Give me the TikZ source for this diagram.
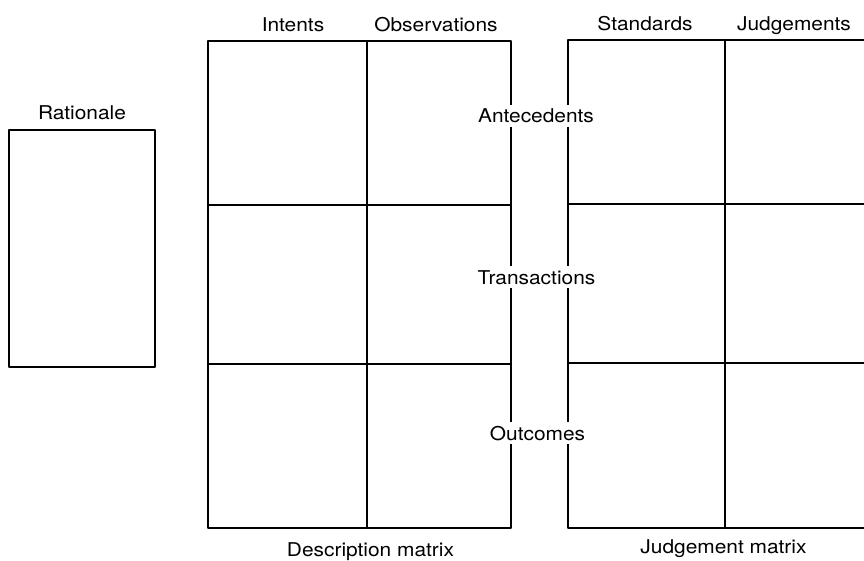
\documentclass[tikz,border=0pt]{standalone}
\usepackage{fontspec}
\setmainfont{TeX Gyre Heros}[FakeStretch=1.1]
\begin{document}
\begin{tikzpicture}[x=1pt,y=-1pt,
  frame/.style={line width=1.8pt,line join=round},
  lbl/.style={font=\fontsize{19}{22}\selectfont,anchor=base,inner sep=1pt},
  rowlbl/.style={lbl,fill=white,inner xsep=3pt,inner ysep=4pt}]
  \clip (0,0) rectangle (864,561);
  \fill[white] (0,0) rectangle (864,561);

  % rationale panel
  \coordinate (r1) at (9,130);
  \coordinate (r2) at (155,367);
  \draw[frame] (r1) rectangle (r2);

  % description matrix: 2 columns x 3 rows
  \coordinate (d1) at (208,41);
  \coordinate (d2) at (511,528);
  \draw[frame] (d1) rectangle (d2);
  \draw[frame] (367,41) -- (367,528);
  \draw[frame] (208,205) -- (511,205);
  \draw[frame] (208,364) -- (511,364);

  % judgement matrix (runs past the right edge)
  \coordinate (j1) at (568,40);
  \draw[frame] (880,40) -- (j1) -- (568,528) -- (880,528);
  \draw[frame] (725,40) -- (725,528);
  \draw[frame] (568,204) -- (880,204);
  \draw[frame] (568,363) -- (880,363);

  % column headings
  \node[lbl] (rat) at (82,120) {Rationale};
  \node[lbl] (int) at (293,32) {Intents};
  \node[lbl] (obs) at (436,32) {Observations};
  \node[lbl] (std) at (645,31) {Standards};
  \node[lbl] (jdg) at (794,31) {Judgements};

  % row headings, set over the gap between the matrices
  \node[rowlbl] (ant) at (536,123) {Antecedents};
  \node[rowlbl] (trn) at (536.5,284) {Transactions};
  \node[rowlbl] (out) at (537.5,440) {Outcomes};

  % captions
  \node[lbl] (dcap) at (370.5,556) {Description matrix};
  \node[lbl] (jcap) at (723.5,553) {Judgement matrix};
\end{tikzpicture}
\end{document}
